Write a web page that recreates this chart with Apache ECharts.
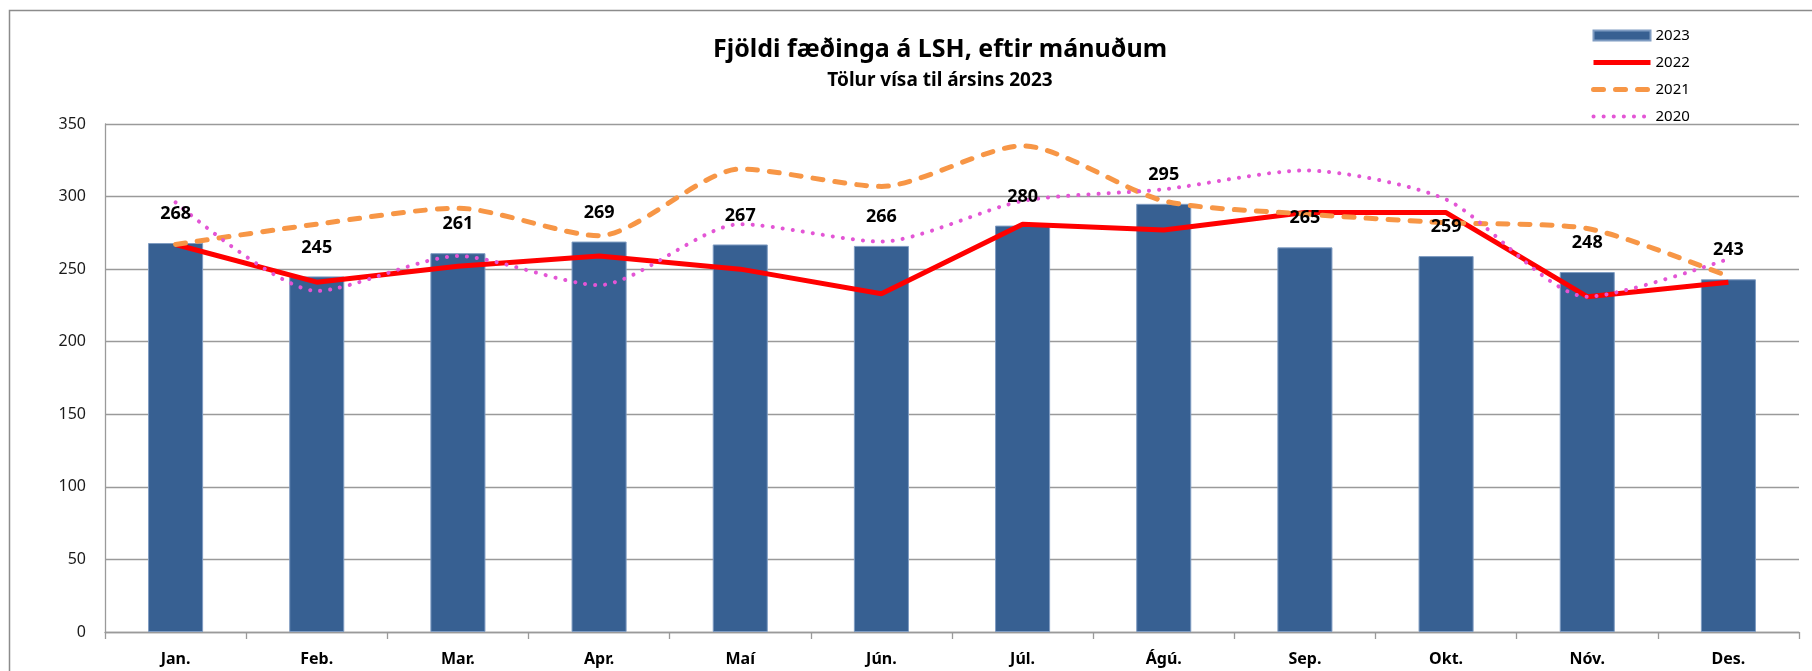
<!DOCTYPE html>
<html lang="is">
<head>
    <meta charset="UTF-8">
    <title>Fjöldi fæðinga á LSH</title>
    <script src="https://cdn.jsdelivr.net/npm/echarts@6/dist/echarts.min.js"></script>
    <style>
        html, body { margin: 0; padding: 0; background: #fff; }
        #chart { width: 1812px; height: 671px; }
    </style>
</head>
<body>
<div id="chart"></div>
<script>
    // months on the x axis
    var months = ['Jan.', 'Feb.', 'Mar.', 'Apr.', 'Maí', 'Jún.', 'Júl.', 'Ágú.', 'Sep.', 'Okt.', 'Nóv.', 'Des.'];

    // births per month
    var births2023 = [268, 245, 261, 269, 267, 266, 280, 295, 265, 259, 248, 243];
    var births2022 = [267, 241, 252, 259, 250, 233, 281, 277, 289, 289, 231, 241];
    var births2021 = [267, 281, 292, 273, 319, 307, 335, 297, 288, 282, 278, 245];
    var births2020 = [296, 235, 259, 239, 281, 269, 297, 305, 318, 298, 231, 257];

    var chart = echarts.init(document.getElementById('chart'));
    var font = '"Noto Sans", "DejaVu Sans", sans-serif';
    var gridGray = '#9a9a9a';

    // line looks, shared by the series and their legend icons
    var style2022 = { color: '#ff0000', width: 5 };
    var style2021 = { color: '#f79646', width: 5, type: [10, 12], cap: 'round' };
    var style2020 = { color: '#e355d5', width: 4, type: [0.1, 10], cap: 'round' };

    var option = {
        animation: false,
        backgroundColor: '#ffffff',
        textStyle: { fontFamily: font },
        graphic: [
            // outer chart frame (only left and top edges are visible)
            {
                type: 'polyline',
                shape: { points: [[9.5, 671], [9.5, 10.5], [1812, 10.5]] },
                style: { stroke: '#8c8c8c', lineWidth: 1.5, fill: null }
            },
            {
                type: 'text',
                x: 940, y: 50,
                style: {
                    text: 'Fjöldi fæðinga á LSH, eftir mánuðum',
                    font: 'bold 25px ' + font,
                    fill: '#000',
                    textAlign: 'center',
                    textVerticalAlign: 'middle'
                }
            },
            {
                type: 'text',
                x: 940, y: 81,
                style: {
                    text: 'Tölur vísa til ársins 2023',
                    font: 'bold 19px ' + font,
                    fill: '#000',
                    textAlign: 'center',
                    textVerticalAlign: 'middle'
                }
            }
        ],
        legend: {
            orient: 'vertical',
            left: 1586,
            top: 22,
            itemWidth: 57,
            itemHeight: 10,
            itemGap: 10,
            textStyle: { fontSize: 15, lineHeight: 17, color: '#000', fontFamily: font },
            data: [
                { name: '2023', icon: 'rect' },
                { name: '2022', itemStyle: { opacity: 0 }, lineStyle: style2022 },
                { name: '2021', itemStyle: { opacity: 0 }, lineStyle: style2021 },
                { name: '2020', itemStyle: { opacity: 0 }, lineStyle: style2020 }
            ]
        },
        grid: {
            left: 105,
            right: 13,
            top: 124,
            bottom: 39
        },
        xAxis: {
            type: 'category',
            data: months,
            boundaryGap: true,
            axisLine: { lineStyle: { color: gridGray, width: 1.3 } },
            axisTick: { show: true, length: 7, lineStyle: { color: gridGray, width: 1.3 } },
            axisLabel: {
                margin: 19,
                fontSize: 16,
                fontWeight: 'bold',
                color: '#000',
                fontFamily: font
            }
        },
        yAxis: {
            type: 'value',
            min: 0,
            max: 350,
            interval: 50,
            axisLine: { show: true, lineStyle: { color: gridGray, width: 1.3 } },
            axisTick: { show: false },
            splitLine: { lineStyle: { color: gridGray, width: 1.3 } },
            axisLabel: {
                margin: 19,
                fontSize: 16,
                color: '#1a1a1a',
                fontFamily: font
            }
        },
        series: [
            {
                name: '2023',
                type: 'bar',
                data: births2023,
                barWidth: '39%',
                barGap: '-100%',
                itemStyle: { color: '#376092', borderColor: '#7f9cc2', borderWidth: 1 },
                z: 1
            },
            {
                name: '2022',
                type: 'line',
                data: births2022,
                symbol: 'none',
                itemStyle: { color: '#ff0000' },
                lineStyle: style2022,
                z: 3
            },
            {
                name: '2021',
                type: 'line',
                data: births2021,
                symbol: 'none',
                smooth: 0.25,
                itemStyle: { color: '#f79646' },
                lineStyle: style2021,
                z: 4
            },
            {
                name: '2020',
                type: 'line',
                data: births2020,
                symbol: 'none',
                smooth: 0.25,
                itemStyle: { color: '#e355d5' },
                lineStyle: style2020,
                z: 5
            },
            {
                // same 2023 bars, invisible, only to put the value labels above the lines
                name: '2023',
                type: 'bar',
                data: births2023,
                barWidth: '39%',
                barGap: '-100%',
                itemStyle: { color: 'rgba(0,0,0,0)' },
                silent: true,
                label: {
                    show: true,
                    position: 'top',
                    distance: 20,
                    fontSize: 18,
                    fontWeight: 'bold',
                    color: '#000',
                    fontFamily: font
                },
                z: 10
            }
        ]
    };

    chart.setOption(option);
</script>
</body>
</html>
